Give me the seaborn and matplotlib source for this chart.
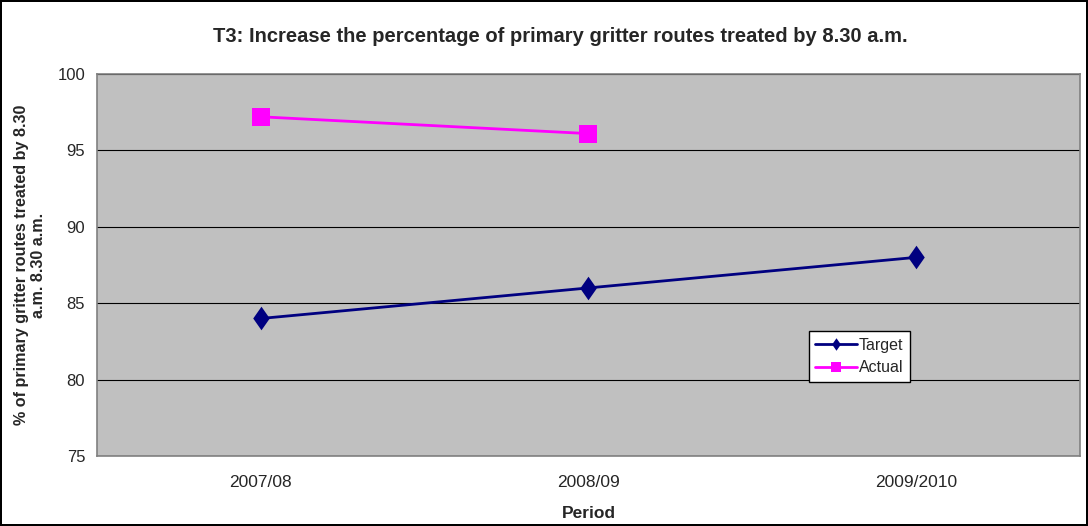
import pandas as pd
import matplotlib.pyplot as plt
import seaborn as sns

periods = ['2007/08', '2008/09', '2009/2010']
target = [84, 86, 88]
actual = [97.2, 96.1]

sns.set_style('white')
plt.rcParams['font.family'] = ['Liberation Sans', 'DejaVu Sans']

df = pd.DataFrame({
    'Period': periods + periods[:len(actual)],
    'value': target + actual,
    'series': ['Target'] * len(target) + ['Actual'] * len(actual),
})
df['pos'] = df['Period'].map({p: i for i, p in enumerate(periods)})

# Excel-style diamond, a bit wider than matplotlib's thin diamond
diamond = [(0, 1), (0.7, 0), (0, -1), (-0.7, 0), (0, 1)]

fig = plt.figure(figsize=(10.88, 5.26), dpi=100)
fig.patch.set_edgecolor('black')
fig.patch.set_linewidth(1.5)
ax = fig.add_axes([0.0892, 0.1331, 0.9034, 0.7262])
ax.set_facecolor('#C0C0C0')

sns.lineplot(data=df, x='pos', y='value', hue='series', style='series',
             palette={'Target': '#000080', 'Actual': '#FF00FF'},
             markers={'Target': diamond, 'Actual': 's'}, dashes=False,
             linewidth=2.0, markersize=17, markeredgewidth=0, ax=ax)
for line in ax.lines:
    if line.get_marker() == 's':
        line.set_markersize(13)

ax.set_xlim(-0.5, 2.5)
ax.set_ylim(75, 100)
ax.set_yticks(range(75, 101, 5))
ax.set_xticks(range(len(periods)))
ax.set_xticklabels(periods)
ax.set_xticks([-0.5, 0.5, 1.5, 2.5], minor=True)
ax.tick_params(axis='x', which='major', length=0, pad=14, labelsize=12.5)
ax.tick_params(axis='x', which='minor', length=5, color='black', direction='out')
ax.tick_params(axis='y', length=5, color='black', direction='out', labelsize=12)
ax.grid(axis='y', color='black', linewidth=0.8)
ax.set_axisbelow(True)

for side in ['top', 'right', 'left', 'bottom']:
    ax.spines[side].set_color('#808080')
    ax.spines[side].set_linewidth(1.2)

ax.set_xlabel('Period', fontsize=12.5, fontweight='bold', labelpad=11)
ax.set_ylabel('% of primary gritter routes treated by 8.30\na.m. 8.30 a.m.',
              fontsize=11.6, fontweight='bold', labelpad=8)
fig.suptitle('T3: Increase the percentage of primary gritter routes treated by 8.30 a.m.',
             fontsize=14.5, fontweight='bold', x=0.515, y=0.948)

handles, labels = ax.get_legend_handles_labels()
leg = ax.legend(handles, labels, loc='lower left', bbox_to_anchor=(0.724, 0.194),
                frameon=True, fancybox=False, edgecolor='black', facecolor='white',
                framealpha=1, fontsize=11.5, handlelength=2.6, handletextpad=0.15,
                borderpad=0.4, labelspacing=0.5, borderaxespad=0)
for h in leg.legend_handles:
    h.set_markersize(9)
    h.set_linewidth(2.0)
    if h.get_marker() == 's':
        h.set_markersize(7)

fig.savefig('out.png', dpi=100, edgecolor=fig.get_edgecolor())
